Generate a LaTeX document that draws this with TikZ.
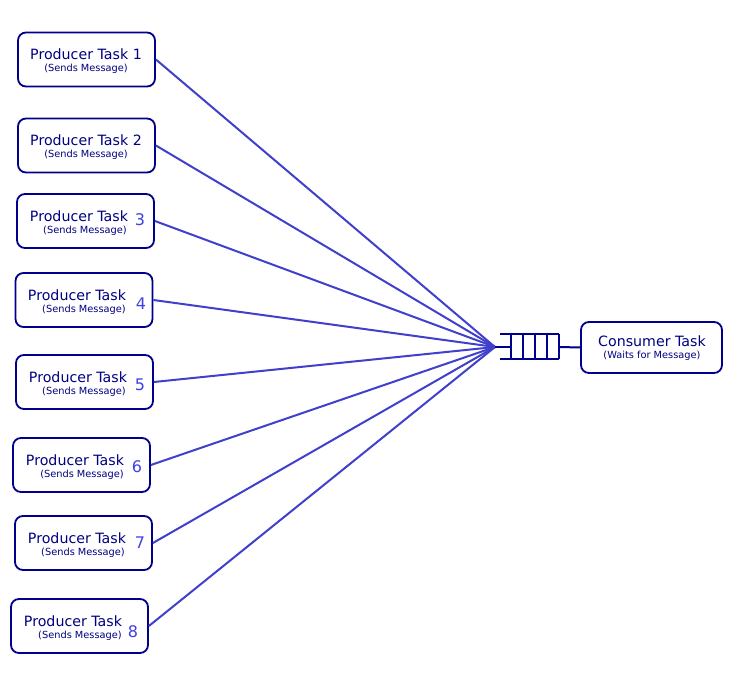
\documentclass[tikz,border=0pt]{standalone}
\usepackage{fontspec}
\setmainfont{DejaVu Sans}
\begin{document}
\begin{tikzpicture}[x=1pt,y=-1pt,
  box/.style={draw=boxc,line width=1.8pt,rounded corners=8pt,minimum width=137pt,minimum height=54pt,inner sep=0pt,fill=white},
  big/.style={text=txtc,font=\fontsize{14.2}{16}\selectfont,inner sep=0pt},
  small/.style={text=txtc,font=\fontsize{9.8}{11}\selectfont,inner sep=0pt},
  num/.style={text=numc,font=\fontsize{16}{17}\selectfont,inner sep=0pt},
  wire/.style={draw=linec,line width=2pt},
  qline/.style={draw=boxc,line width=2pt}]
\definecolor{boxc}{RGB}{0,0,140}
\definecolor{txtc}{RGB}{0,0,128}
\definecolor{numc}{RGB}{64,64,230}
\definecolor{linec}{RGB}{64,64,204}
\useasboundingbox (0,0) rectangle (756,679);
\fill[white] (0,0) rectangle (756,679);
% hub
\coordinate (hub) at (495,347);
% boxes
\node[box] (p1) at (86.5,59.5) {};
\node[box] (p2) at (86.5,145.5) {};
\node[box] (p3) at (85.5,221) {};
\node[box] (p4) at (84,300) {};
\node[box] (p5) at (84.5,382) {};
\node[box] (p6) at (81.5,465) {};
\node[box] (p7) at (83.5,543) {};
\node[box] (p8) at (79.5,626) {};
\node[draw=boxc,line width=1.8pt,rounded corners=8pt,minimum width=141pt,minimum height=51pt,inner sep=0pt] (cons) at (651.5,347.5) {};
% wires
\foreach \i in {1,...,8} {\draw[wire] (p\i.east) -- (hub);}
% texts
\node[big] (t1) at (86,54) {Producer Task 1};
\node[small] (s1) at (86,69) {(Sends Message)};
\node[big] (t2) at (86,140) {Producer Task 2};
\node[small] (s2) at (86,155) {(Sends Message)};
\node[big] (t3) at (79,216) {Producer Task};
\node[small] (s3) at (85,231) {(Sends Message)};
\node[num] (n3) at (140,220) {3};
\node[big] (t4) at (77,295) {Producer Task};
\node[small] (s4) at (84,310) {(Sends Message)};
\node[num] (n4) at (141,304) {4};
\node[big] (t5) at (78,377) {Producer Task};
\node[small] (s5) at (84,392) {(Sends Message)};
\node[num] (n5) at (140,385) {5};
\node[big] (t6) at (75,460) {Producer Task};
\node[small] (s6) at (82,475) {(Sends Message)};
\node[num] (n6) at (137,467) {6};
\node[big] (t7) at (77,538) {Producer Task};
\node[small] (s7) at (83,553) {(Sends Message)};
\node[num] (n7) at (140,543) {7};
\node[big] (t8) at (73,621) {Producer Task};
\node[small] (s8) at (80,636) {(Sends Message)};
\node[num] (n8) at (133,632) {8};
\node[big] (tc) at (652,341) {Consumer Task};
\node[small] (sc) at (652,356) {(Waits for Message)};
% queue
\coordinate (q1) at (511,347);
\coordinate (q5) at (559,347);
\draw[qline] (hub) -- (q1);
\draw[qline] (500,334.5) -- (559,334.5);
\draw[qline] (500,359) -- (559,359);
\foreach \x in {511,523,535,547,559} {\draw[qline] (\x,334.5) -- (\x,359);}
\draw[qline] (q5) -- (cons.west);
\end{tikzpicture}
\end{document}
